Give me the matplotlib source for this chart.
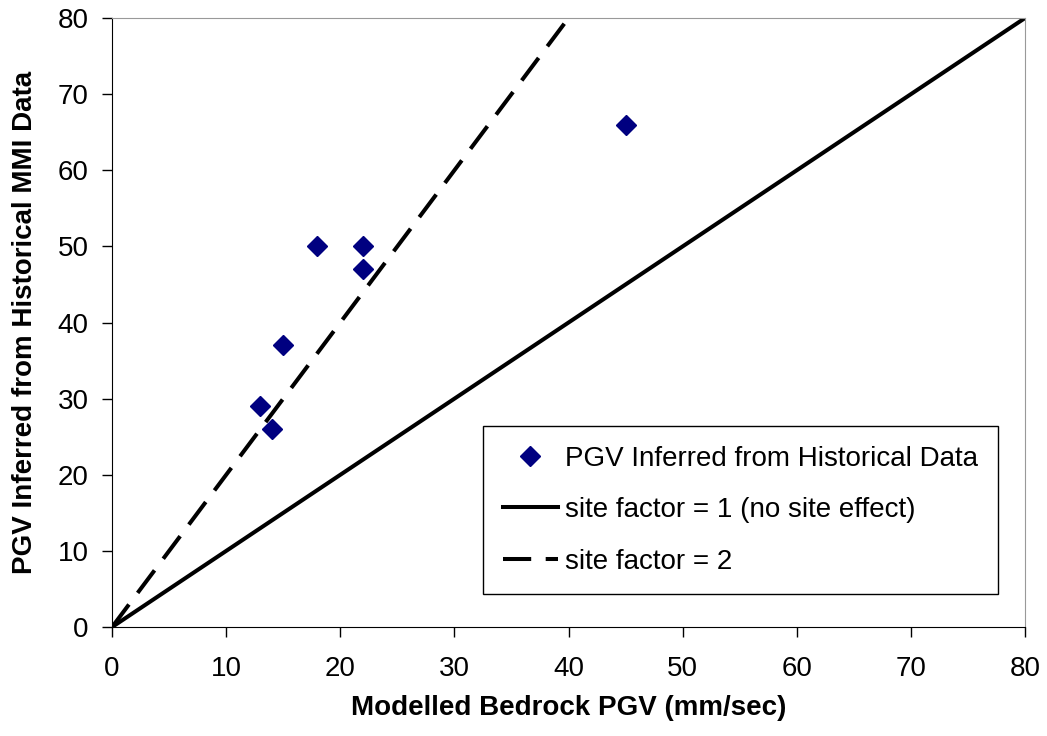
import matplotlib.pyplot as plt

plt.rcParams['font.family'] = ['Liberation Sans', 'DejaVu Sans']

# observed points
bedrock_pgv = [13, 14, 15, 18, 22, 22, 45]
inferred_pgv = [29, 26, 37, 50, 50, 47, 66]

# reference lines
line1_x = [0, 80]
line1_y = [0, 80]
line2_x = [0, 40]
line2_y = [0, 80]

ticks = [0, 10, 20, 30, 40, 50, 60, 70, 80]

fig = plt.figure(figsize=(10.47, 7.36), dpi=100)
ax = fig.add_axes([0.107, 0.148, 0.872, 0.8275])

ax.plot(bedrock_pgv, inferred_pgv, 'D', color='#000080', markersize=10,
        label='PGV Inferred from Historical Data', zorder=3)
ax.plot(line1_x, line1_y, '-', color='black', linewidth=2.9,
        label='site factor = 1 (no site effect)')
ax.plot(line2_x, line2_y, color='black', linewidth=2.9, dashes=(7, 3.6),
        label='site factor = 2')

ax.set_xlim(0, 80)
ax.set_ylim(0, 80)
ax.set_xticks(ticks)
ax.set_yticks(ticks)
ax.tick_params(direction='out', length=7, labelsize=20, width=1)
ax.tick_params(axis='x', pad=14)
ax.tick_params(axis='y', pad=10)
for s in ['top', 'right']:
    ax.spines[s].set_color('#999999')

ax.set_xlabel('Modelled Bedrock PGV (mm/sec)', fontsize=20, fontweight='bold', labelpad=9)
ax.set_ylabel('PGV Inferred from Historical MMI Data', fontsize=20, fontweight='bold', labelpad=14)

leg = ax.legend(loc='lower right', bbox_to_anchor=(0.970, 0.054), fontsize=20,
                frameon=True, fancybox=False, edgecolor='black', framealpha=1,
                handlelength=2.0, labelspacing=0.92, borderpad=0.7, handletextpad=0.25,
                borderaxespad=0)
leg.get_frame().set_linewidth(1)

fig.savefig('out.png', dpi=100)
